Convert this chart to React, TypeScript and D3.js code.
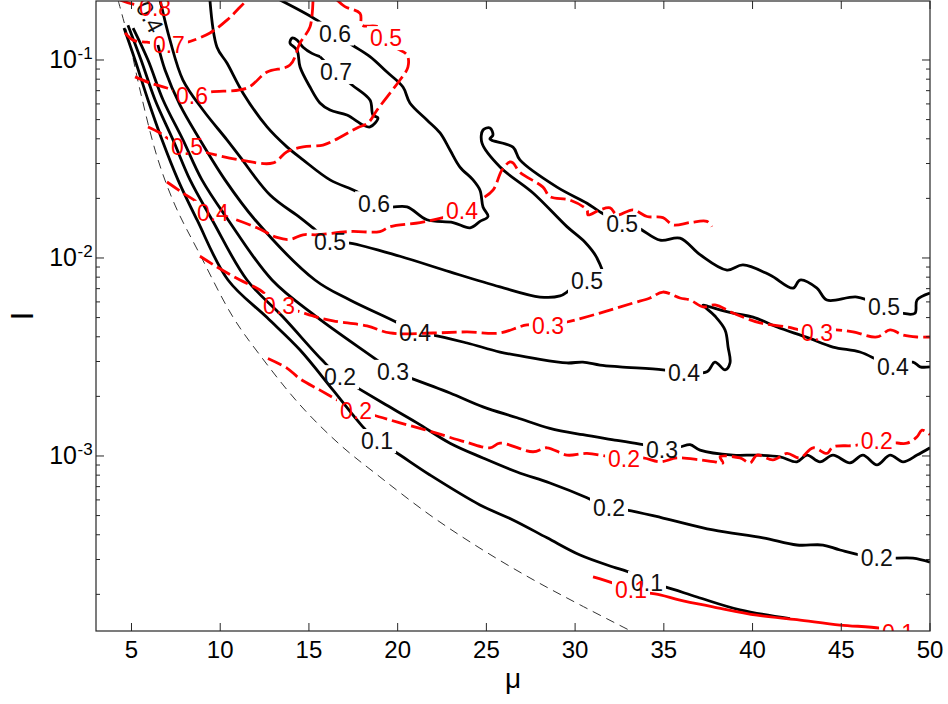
import React from 'react';
import * as d3 from 'd3';

type Pt = [number, number];

const X_DOMAIN: [number, number] = [3, 50];
const Y_DOMAIN: [number, number] = [1.306e-4, 0.1986];
const xTickValues = [5, 10, 15, 20, 25, 30, 35, 40, 45, 50];
const yMajorValues = [1e-3, 1e-2, 1e-1];
const yMajorExponents = ['-3', '-2', '-1'];

// dashed limit curve
const boundaryLine: Pt[] = [
  [4.24, 0.201], [4.92, 0.119], [5.48, 0.0705], [6.44, 0.0325], [7.45, 0.0185], [8.86, 0.0104],
  [10.72, 0.00503], [12.24, 0.00323], [14.5, 0.00181], [16.75, 0.00114], [19.0, 0.000784],
  [21.82, 0.000503], [24.64, 0.000342], [27.46, 0.000242], [30.28, 0.000177], [33.26, 0.000129],
];

// black contours
const black01: Pt[] = [
  [4.58, 0.145], [5.2, 0.1], [5.93, 0.0628], [6.72, 0.0395], [7.62, 0.0248], [8.69, 0.0156],
  [10.44, 0.00774], [12.64, 0.005], [14.5, 0.00343], [16.36, 0.00215], [17.99, 0.00142],
  [18.84, 0.00119], [19.85, 0.00105], [21.82, 0.000802], [24.64, 0.000566], [26.5, 0.000475],
  [28.42, 0.000386], [30.28, 0.000316], [32.14, 0.000275], [32.98, 0.00026], [34.05, 0.000228],
  [35.07, 0.000218], [36.87, 0.000194], [39.29, 0.000167], [42.11, 0.000151],
];
const black01Labels: Pt[] = [[18.84, 0.00119], [34.05, 0.000228]];

const black02: Pt[] = [
  [4.8, 0.15], [5.54, 0.1], [6.33, 0.0628], [7.34, 0.0395], [8.3, 0.0248], [9.54, 0.0156],
  [11.51, 0.00774], [13.54, 0.00503], [15.74, 0.00305], [16.75, 0.0025], [17.76, 0.0022],
  [19.17, 0.00185], [21.09, 0.00147], [22.95, 0.00116], [24.81, 0.000977], [26.73, 0.00083],
  [28.58, 0.00073], [30.67, 0.000615], [31.91, 0.000545], [32.92, 0.000533], [34.95, 0.000486],
  [37.77, 0.000423], [40.59, 0.000386], [42.5, 0.000355], [43.97, 0.000355], [44.93, 0.000335],
  [47.0, 0.000305], [49.04, 0.000305], [50.0, 0.000291],
];
const black02Labels: Pt[] = [[16.75, 0.0025], [31.91, 0.000545], [47.0, 0.000305]];

const black03: Pt[] = [
  [5.09, 0.145], [5.93, 0.1], [6.78, 0.0628], [7.9, 0.0395], [8.97, 0.0248], [10.44, 0.0156],
  [12.92, 0.00774], [15.45, 0.00503], [18.84, 0.00305], [19.74, 0.00266], [20.69, 0.00248],
  [22.95, 0.00208], [24.81, 0.00177], [26.73, 0.00156], [28.58, 0.00138], [30.44, 0.00128],
  [32.36, 0.0012], [33.83, 0.00114], [34.9, 0.00108], [35.91, 0.00111], [36.48, 0.00114],
  [37.04, 0.00107], [38.9, 0.00101], [40.25, 0.00101], [41.55, 0.00099], [42.5, 0.000934],
  [43.07, 0.00101], [43.8, 0.000934], [44.53, 0.00101], [45.49, 0.000923], [46.22, 0.00101],
  [47.01, 0.000901], [47.75, 0.00101], [48.48, 0.000934], [49.27, 0.00101], [50.0, 0.0011],
];
const black03Labels: Pt[] = [[19.74, 0.00266], [34.9, 0.00108]];

const black04: Pt[] = [
  [6.49, 0.119], [6.89, 0.089], [7.73, 0.0593], [8.86, 0.0395], [10.27, 0.0248], [11.96, 0.0156],
  [15.34, 0.00774], [17.31, 0.00613], [20.02, 0.00469], [20.98, 0.00418], [21.99, 0.00408],
  [23.91, 0.00372], [25.77, 0.00335], [27.63, 0.00312], [29.54, 0.00295], [30.44, 0.00298],
  [31.4, 0.00288], [32.53, 0.00282], [34.95, 0.00272], [36.14, 0.00263], [37.43, 0.00266],
  [37.88, 0.00298], [38.45, 0.00272], [38.73, 0.00295], [38.62, 0.00355], [38.45, 0.00433],
  [37.88, 0.00509], [37.21, 0.00579], [37.6, 0.00566], [38.9, 0.00526], [40.03, 0.00503],
  [41.38, 0.00448], [43.07, 0.00397], [44.53, 0.00355], [46.05, 0.00335], [47.07, 0.00305],
  [47.91, 0.00282], [49.04, 0.00298], [49.44, 0.00282], [50.0, 0.00282],
];
const black04Labels: Pt[] = [[20.98, 0.00418], [36.14, 0.00263], [47.91, 0.00282]];
const black04TopLabel: Pt = [6.04, 0.165];

const black05: Pt[] = [
  [6.61, 0.201], [7.17, 0.126], [7.9, 0.0792], [9.03, 0.0559], [10.38, 0.0395], [11.12, 0.0324],
  [12.81, 0.0208], [14.5, 0.016], [15.23, 0.0142], [16.19, 0.0121], [17.31, 0.0119],
  [20.13, 0.0102], [22.95, 0.0085], [25.77, 0.00714], [28.02, 0.00635], [29.15, 0.00643],
  [29.71, 0.00689], [30.67, 0.00765], [31.57, 0.00792], [31.23, 0.01], [30.56, 0.012],
  [29.54, 0.0144], [27.63, 0.0213], [25.77, 0.0288], [24.75, 0.0381], [24.81, 0.0443],
  [25.2, 0.0454], [25.37, 0.0418], [25.2, 0.0399], [26.5, 0.0363], [26.89, 0.0313],
  [28.98, 0.0228], [30.67, 0.0189], [31.4, 0.0171], [32.65, 0.0149], [33.54, 0.0142],
  [34.79, 0.0123], [35.91, 0.0126], [37.04, 0.0104], [38.56, 0.00869], [39.46, 0.00922],
  [40.98, 0.0082], [42.28, 0.00704], [42.67, 0.00774], [43.63, 0.00704], [44.19, 0.00613],
  [45.89, 0.00635], [47.41, 0.00566], [48.42, 0.00526], [49.15, 0.00526], [49.27, 0.00613],
  [50.0, 0.00665],
];
const black05Labels: Pt[] = [[16.19, 0.0121], [30.67, 0.00765], [32.65, 0.0149], [47.41, 0.00566]];

const black06: Pt[] = [
  [9.42, 0.201], [9.82, 0.116], [10.38, 0.0965], [11.29, 0.068], [12.64, 0.0459], [13.76, 0.0364],
  [14.67, 0.0313], [16.19, 0.0248], [17.71, 0.0216], [18.67, 0.0189], [19.57, 0.0181],
  [20.53, 0.0181], [21.65, 0.0156], [23.12, 0.0151], [24.08, 0.0142], [24.64, 0.0153],
  [25.09, 0.0162], [24.81, 0.0181], [24.64, 0.022], [24.25, 0.0248], [23.51, 0.0288],
  [22.95, 0.0351], [22.39, 0.0428], [21.65, 0.0498], [20.69, 0.0607], [20.3, 0.073],
  [19.4, 0.0869], [18.44, 0.104], [17.43, 0.119], [16.47, 0.136], [15.45, 0.159], [13.37, 0.201],
];
const black06Labels: Pt[] = [[18.67, 0.0189], [16.47, 0.136]];

const black07: Pt[] = [
  [15.62, 0.104], [16.53, 0.087], [17.43, 0.0748], [18.44, 0.0628], [18.61, 0.0527],
  [18.89, 0.0509], [18.44, 0.0459], [18.05, 0.047], [17.14, 0.0527], [16.19, 0.0559],
  [15.62, 0.0607], [15.06, 0.073], [14.5, 0.0922], [14.33, 0.112], [13.93, 0.122],
  [14.05, 0.129], [14.33, 0.126], [14.67, 0.116], [15.17, 0.108], [15.62, 0.104],
];
const black07Labels: Pt[] = [[16.53, 0.087]];

// red contours
const red08: Pt[] = [[4.35, 0.201], [5.03, 0.192], [6.33, 0.184]];
const red08Labels: Pt[] = [[6.33, 0.184]];

const red07: Pt[] = [
  [4.64, 0.137], [5.09, 0.126], [5.87, 0.123], [7.11, 0.12], [8.01, 0.122], [9.42, 0.137],
  [10.38, 0.159], [11.12, 0.185], [11.51, 0.201],
];
const red07Labels: Pt[] = [[7.11, 0.12]];

const red06: Pt[] = [
  [5.2, 0.0822], [6.04, 0.0766], [7.0, 0.0722], [8.41, 0.0658], [9.42, 0.0689], [11.51, 0.0722],
  [12.64, 0.087], [13.93, 0.0943], [14.5, 0.122], [15.06, 0.147], [15.23, 0.201],
];
const red06Labels: Pt[] = [[8.41, 0.0658]];

const red05: Pt[] = [
  [5.93, 0.0459], [6.61, 0.0428], [7.17, 0.0395], [8.13, 0.0364], [9.03, 0.0344], [11.12, 0.0313],
  [12.98, 0.0302], [13.76, 0.0344], [14.67, 0.0364], [15.79, 0.0372], [16.36, 0.039],
  [17.71, 0.0454], [18.33, 0.0481], [18.84, 0.0559], [19.57, 0.0681], [20.13, 0.0792],
  [20.58, 0.0922], [20.53, 0.106], [19.85, 0.116], [19.34, 0.129], [18.89, 0.147],
  [17.99, 0.15], [17.88, 0.172], [17.03, 0.186], [16.58, 0.201],
];
const red05Labels: Pt[] = [[8.13, 0.0364], [19.34, 0.129]];

const red04: Pt[] = [
  [7.0, 0.0242], [7.9, 0.0213], [8.69, 0.0192], [9.59, 0.0169], [10.55, 0.016], [12.07, 0.0142],
  [13.2, 0.0127], [13.93, 0.0124], [14.67, 0.0131], [15.45, 0.0131], [17.31, 0.0136],
  [19.0, 0.0136], [19.57, 0.0144], [21.26, 0.0151], [22.55, 0.016], [23.63, 0.0173],
  [24.64, 0.0196], [25.37, 0.022], [25.88, 0.0278], [26.33, 0.0306], [26.5, 0.0302],
  [26.89, 0.0271], [28.19, 0.0228], [28.58, 0.0204], [29.71, 0.0196], [30.67, 0.0175],
  [30.73, 0.0165], [31.4, 0.0175], [31.97, 0.0179], [32.36, 0.0165], [33.26, 0.0175],
  [34.05, 0.0162], [34.95, 0.016], [35.52, 0.0147], [36.48, 0.0151], [37.43, 0.0153], [37.71, 0.0144],
];
const red04Labels: Pt[] = [[9.59, 0.0169], [23.63, 0.0173]];

const red03: Pt[] = [
  [8.86, 0.0102], [9.82, 0.00901], [11.12, 0.00774], [12.24, 0.00689], [13.31, 0.00573],
  [14.33, 0.0054], [15.45, 0.00503], [16.36, 0.00481], [18.27, 0.00454], [19.57, 0.00418],
  [21.99, 0.00418], [23.91, 0.00423], [25.77, 0.00418], [27.29, 0.00459], [28.47, 0.00454],
  [29.54, 0.00475], [31.4, 0.00527], [33.26, 0.00592], [34.22, 0.00628], [34.95, 0.00673],
  [35.91, 0.00628], [36.48, 0.00613], [37.21, 0.00566], [37.88, 0.00579], [38.9, 0.00527],
  [40.42, 0.0047], [41.94, 0.00448], [42.67, 0.00433], [43.63, 0.00418], [44.64, 0.00433],
  [45.66, 0.00423], [47.01, 0.00399], [47.75, 0.00433], [48.48, 0.00408], [49.27, 0.00399], [50.0, 0.00399],
];
const red03Labels: Pt[] = [[13.31, 0.00573], [28.47, 0.00454], [43.63, 0.00418]];

const red02: Pt[] = [
  [12.69, 0.00311], [13.76, 0.00278], [14.5, 0.00245], [15.62, 0.00215], [16.58, 0.00192],
  [17.65, 0.00169], [18.61, 0.00161], [20.13, 0.00147], [21.99, 0.00132], [23.91, 0.00117],
  [25.2, 0.0011], [25.77, 0.00116], [27.63, 0.00105], [28.42, 0.0011], [29.54, 0.00101],
  [30.67, 0.00103], [32.76, 0.000966], [33.83, 0.000977], [34.79, 0.000934], [35.74, 0.000977],
  [37.04, 0.000955], [37.88, 0.000934], [38.33, 0.000923], [38.17, 0.00099], [39.29, 0.000977],
  [39.86, 0.000923], [40.25, 0.00101], [41.15, 0.000955], [41.94, 0.00103], [42.67, 0.000977],
  [43.41, 0.0011], [44.19, 0.00103], [44.53, 0.00111], [45.77, 0.00113], [47.0, 0.00119],
  [47.91, 0.00117], [48.7, 0.00116], [49.27, 0.00125], [49.55, 0.00135], [50.0, 0.00128],
];
const red02Labels: Pt[] = [[17.65, 0.00169], [32.76, 0.000966], [47.0, 0.00119]];

const red01: Pt[] = [
  [31.01, 0.000245], [32.14, 0.000228], [33.15, 0.00021], [34.79, 0.000199], [35.91, 0.000187],
  [37.77, 0.000173], [40.25, 0.000157], [42.5, 0.000149], [44.93, 0.00014], [47.18, 0.000135],
  [48.2, 0.000128],
];
const red01Labels: Pt[] = [[33.15, 0.00021], [48.2, 0.000128]];

const blackSeries = [
  { id: 'b1', text: '0.1', pts: black01, labels: black01Labels },
  { id: 'b2', text: '0.2', pts: black02, labels: black02Labels },
  { id: 'b3', text: '0.3', pts: black03, labels: black03Labels },
  { id: 'b4', text: '0.4', pts: black04, labels: black04Labels },
  { id: 'b5', text: '0.5', pts: black05, labels: black05Labels },
  { id: 'b6', text: '0.6', pts: black06, labels: black06Labels },
  { id: 'b7', text: '0.7', pts: black07, labels: black07Labels },
];
const redSeries = [
  { id: 'r1', text: '0.1', pts: red01, labels: red01Labels },
  { id: 'r2', text: '0.2', pts: red02, labels: red02Labels },
  { id: 'r3', text: '0.3', pts: red03, labels: red03Labels },
  { id: 'r4', text: '0.4', pts: red04, labels: red04Labels },
  { id: 'r5', text: '0.5', pts: red05, labels: red05Labels },
  { id: 'r6', text: '0.6', pts: red06, labels: red06Labels },
  { id: 'r7', text: '0.7', pts: red07, labels: red07Labels },
  { id: 'r8', text: '0.8', pts: red08, labels: red08Labels },
];

const W = 948;
const H = 704;
const L = 96, R = 930, T = 1, B = 631;
const FONT = "'Liberation Sans', Arial, Helvetica, sans-serif";
const RED = '#ff0000';

export default function App() {
  const x = d3.scaleLinear().domain(X_DOMAIN).range([L, R]);
  const y = d3.scaleLog().domain(Y_DOMAIN).range([B, T]);
  const line = d3
    .line<Pt>()
    .x((d) => x(d[0]))
    .y((d) => y(d[1]))
    .curve(d3.curveCatmullRom.alpha(0.5));

  const allYTicks = y.ticks();
  const minorY = allYTicks.filter((v) => !yMajorValues.some((m) => Math.abs(v / m - 1) < 1e-6));

  const lw = 19, lh = 12;
  const renderMask = (s: { id: string; labels: Pt[] }) => (
    <mask id={`m-${s.id}`} key={`m-${s.id}`} maskUnits="userSpaceOnUse" x={0} y={0} width={W} height={H}>
      <rect x={0} y={0} width={W} height={H} fill="white" />
      {s.labels.map((p, i) => (
        <rect key={i} x={x(p[0]) - lw} y={y(p[1]) - lh} width={lw * 2} height={lh * 2} fill="black" />
      ))}
    </mask>
  );

  return (
    <svg
      width={W}
      height={H}
      viewBox={`0 0 ${W} ${H}`}
      style={{ position: 'absolute', left: 0, top: 0, background: '#fff' }}
      fontFamily={FONT}
    >
      <defs>
        <clipPath id="plot-clip">
          <rect x={L} y={T} width={R - L} height={B - T} />
        </clipPath>
        {blackSeries.map(renderMask)}
        {redSeries.map(renderMask)}
      </defs>
      <rect x={0} y={0} width={W} height={H} fill="#fff" />

      <g clipPath="url(#plot-clip)">
        <path d={line(boundaryLine) || ''} fill="none" stroke="#333" strokeWidth={1} strokeDasharray="9 6" />
        {blackSeries.map((s) => (
          <path
            key={s.id}
            d={line(s.pts) || ''}
            fill="none"
            stroke="#000"
            strokeWidth={2.8}
            strokeLinejoin="round"
            mask={`url(#m-${s.id})`}
          />
        ))}
        {redSeries.map((s) => (
          <path
            key={s.id}
            d={line(s.pts) || ''}
            fill="none"
            stroke={RED}
            strokeWidth={2.8}
            strokeLinejoin="round"
            strokeDasharray={s.id === 'r1' ? undefined : '15 5'}
            mask={`url(#m-${s.id})`}
          />
        ))}
        {blackSeries.map((s) =>
          s.labels.map((p, i) => (
            <text key={`${s.id}-${i}`} x={x(p[0])} y={y(p[1])} dy="0.36em" textAnchor="middle" fontSize={23} fill="#111">
              {s.text}
            </text>
          ))
        )}
        <text
          x={x(black04TopLabel[0])}
          y={y(black04TopLabel[1])}
          dy="0.36em"
          textAnchor="middle"
          fontSize={23}
          fill="#111"
          transform={`rotate(62 ${x(black04TopLabel[0])} ${y(black04TopLabel[1])})`}
        >
          0.4
        </text>
        {redSeries.map((s) =>
          s.labels.map((p, i) => (
            <text key={`${s.id}-${i}`} x={x(p[0])} y={y(p[1])} dy="0.36em" textAnchor="middle" fontSize={23} fill={RED}>
              {s.text}
            </text>
          ))
        )}
      </g>

      {/* axes box */}
      <rect x={L} y={T} width={R - L} height={B - T} fill="none" stroke="#262626" strokeWidth={1.2} />

      {/* x ticks */}
      {xTickValues.map((v) => (
        <g key={`xt-${v}`}>
          <line x1={x(v)} x2={x(v)} y1={B} y2={B - 8} stroke="#262626" strokeWidth={1} />
          <line x1={x(v)} x2={x(v)} y1={T} y2={T + 8} stroke="#262626" strokeWidth={1} />
          <text x={x(v)} y={B + 27} textAnchor="middle" fontSize={24} fill="#000">
            {v}
          </text>
        </g>
      ))}

      {/* y ticks */}
      {yMajorValues.map((v, i) => (
        <g key={`ym-${i}`}>
          <line x1={L} x2={L + 8} y1={y(v)} y2={y(v)} stroke="#262626" strokeWidth={1} />
          <line x1={R} x2={R - 8} y1={y(v)} y2={y(v)} stroke="#262626" strokeWidth={1} />
          <text x={77} y={y(v) + 8} textAnchor="end" fontSize={25} fill="#000">
            10
          </text>
          <text x={77.5} y={y(v) - 1} textAnchor="start" fontSize={17} fill="#000">
            {yMajorExponents[i]}
          </text>
        </g>
      ))}
      {minorY.map((v, i) => (
        <g key={`yn-${i}`}>
          <line x1={L} x2={L + 4} y1={y(v)} y2={y(v)} stroke="#262626" strokeWidth={1} />
          <line x1={R} x2={R - 4} y1={y(v)} y2={y(v)} stroke="#262626" strokeWidth={1} />
        </g>
      ))}

      <text x={(L + R) / 2} y={688} textAnchor="middle" fontSize={28} fill="#000">
        μ
      </text>
      <text x={33} y={(T + B) / 2} textAnchor="middle" fontSize={31} fill="#000" transform={`rotate(-90 33 ${(T + B) / 2})`}>
        I
      </text>
    </svg>
  );
}
